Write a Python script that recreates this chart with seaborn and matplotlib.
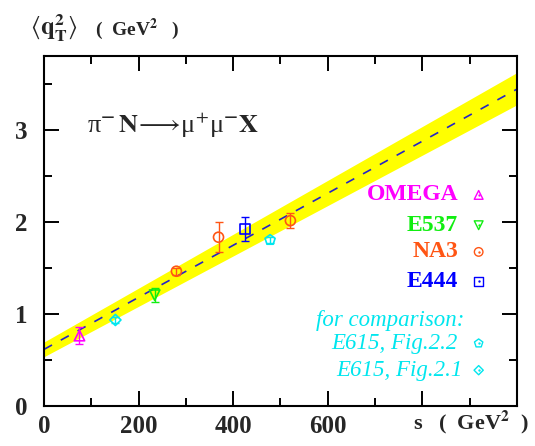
import numpy as np
import pandas as pd
import matplotlib
matplotlib.use("Agg")
import matplotlib.pyplot as plt
import seaborn as sns

# ---- data -------------------------------------------------------------
# linear fit with its uncertainty band (s in GeV^2, <qT^2> in GeV^2)
fit_s = [0, 1000]
fit_mid = [0.61, 3.44]
fit_lo = [0.53, 3.27]
fit_hi = [0.69, 3.62]

omega_s, omega_q, omega_err = [75], [0.76], [0.09]
e537_s, e537_q, e537_err = [234], [1.20], [0.08]
na3_s, na3_q, na3_err = [280, 369, 521], [1.46, 1.83, 2.01], [0.04, 0.165, 0.085]
e444_s, e444_q, e444_err = [425], [1.92], [0.135]
e615a_s, e615a_q, e615a_err = [478], [1.80], [0.03]   # E615, Fig.2.2
e615b_s, e615b_q, e615b_err = [151], [0.93], [0.03]   # E615, Fig.2.1

x_ticks = [0, 200, 400, 600, 800, 1000]
x_ticklabels = ["0", "200", "400", "600", "", ""]
y_ticks = [0, 1, 2, 3]
y_ticklabels = ["0", "1", "2", "3"]

# ---- style ------------------------------------------------------------
sns.set_theme(style="ticks")
plt.rcParams["font.family"] = ["Liberation Serif", "DejaVu Serif"]
plt.rcParams["mathtext.fontset"] = "stix"

MAGENTA = "#ff00ff"
GREEN = "#11ee11"
ORANGE = "#ff5514"
BLUE = "#0000ff"
CYAN = "#00e6ee"

fig = plt.figure(figsize=(5.35, 4.46), dpi=100)
ax = fig.add_axes([0.0822, 0.0908, 0.8841, 0.7836])

# fit band and central line
ax.fill_between(fit_s, fit_lo, fit_hi, color="#ffff00", linewidth=0, zorder=1)
fit_df = pd.DataFrame({"s": fit_s, "q": fit_mid})
sns.lineplot(data=fit_df, x="s", y="q", ax=ax, color="#2424c8", linewidth=1.2,
             dashes=False, zorder=2)
ax.lines[-1].set_dashes([5.5, 6])

# experimental points
sets = [
    (omega_s, omega_q, omega_err, MAGENTA, "^", 56),
    (e537_s, e537_q, e537_err, GREEN, "v", 56),
    (na3_s, na3_q, na3_err, ORANGE, "o", 52),
    (e444_s, e444_q, e444_err, BLUE, "s", 50),
    (e615a_s, e615a_q, e615a_err, CYAN, "p", 58),
    (e615b_s, e615b_q, e615b_err, CYAN, "D", 32),
]
for s, q, err, col, mk, size in sets:
    ax.errorbar(s, q, yerr=err, fmt="none", ecolor=col, elinewidth=1.0,
                capsize=3, capthick=1.0, zorder=3)
    df = pd.DataFrame({"s": s, "q": q})
    sns.scatterplot(data=df, x="s", y="q", ax=ax, marker=mk, s=size,
                    facecolor="none", edgecolor=col, linewidth=1.2, zorder=4)

# key: labels with their symbols
key_x_txt, key_x_mk = 876, 919
key_rows = [
    ("OMEGA", MAGENTA, "^", 2.29, 40),
    ("E537", GREEN, "v", 1.96, 40),
    ("NA3", ORANGE, "o", 1.67, 38),
    ("E444", BLUE, "s", 1.35, 36),
]
for label, col, mk, yy, size in key_rows:
    ax.text(key_x_txt, yy, label, color=col, fontsize=17, fontweight="bold",
            ha="right", va="center")
    ax.scatter([key_x_mk], [yy], marker=mk, s=size, facecolor="none",
               edgecolor=col, linewidth=1.0, zorder=5)
    ax.scatter([key_x_mk], [yy], marker=".", s=2, color=col, zorder=5)

ax.text(889, 0.925, "for comparison:", color=CYAN, fontsize=16.5,
        fontstyle="italic", ha="right", va="center")
ax.text(874, 0.676, "E615, Fig.2.2", color=CYAN, fontsize=16.5,
        fontstyle="italic", ha="right", va="center")
ax.text(886, 0.384, "E615, Fig.2.1", color=CYAN, fontsize=16.5,
        fontstyle="italic", ha="right", va="center")
ax.scatter([919], [0.676], marker="p", s=40, facecolor="none", edgecolor=CYAN,
           linewidth=1.0, zorder=5)
ax.scatter([919], [0.384], marker="D", s=22, facecolor="none", edgecolor=CYAN,
           linewidth=1.0, zorder=5)
ax.scatter([919, 919], [0.676, 0.384], marker=".", s=2, color=CYAN, zorder=5)

# reaction label: upright Greek letters, bold N and X
ax.text(0.091, 0.78,
        r"π$^{\mathbf{-}}$$\,\mathbf{N}\!\longrightarrow\!$μ$^{+}$μ$^{\mathbf{-}}$$\mathbf{X}$",
        transform=ax.transAxes, fontsize=19, ha="left", va="baseline")

# axes
ax.set_xlim(0, 1000)
ax.set_ylim(0, 3.8)
ax.set_xticks(x_ticks)
ax.set_xticklabels(x_ticklabels)
ax.set_yticks(y_ticks)
ax.set_yticklabels(y_ticklabels)
ax.set_xticks(np.arange(100, 1000, 200), minor=True)
ax.set_yticks(np.arange(0.5, 3.8, 1.0), minor=True)
ax.tick_params(which="both", direction="in", top=True, right=True,
               color="black", width=1.4)
ax.tick_params(which="major", length=11)
ax.tick_params(which="minor", length=6)
ax.tick_params(axis="x", which="major", pad=7, labelsize=18)
ax.tick_params(axis="y", which="major", pad=12, labelsize=18)
for lab in ax.get_xticklabels() + ax.get_yticklabels():
    lab.set_fontweight("bold")
for sp in ax.spines.values():
    sp.set_linewidth(1.5)
    sp.set_color("black")
    sp.set_visible(True)
ax.set_xlabel("")
ax.set_ylabel("")

# axis titles
fig.text(0.772, 0.036, r"s   (  GeV$^{\mathbf{2}}$  )", fontsize=16,
         fontweight="bold", ha="left", va="baseline")
fig.text(0.056, 0.9215, r"$\langle\mathbf{q}_{\mathbf{T}}^{\mathbf{2}}\rangle$",
         fontsize=18, ha="left", va="baseline")
fig.text(0.178, 0.9215, r"(  GeV$^{\mathbf{2}}$   )", fontsize=14,
         fontweight="bold", ha="left", va="baseline")

fig.savefig("out.png", dpi=100, facecolor="white")
